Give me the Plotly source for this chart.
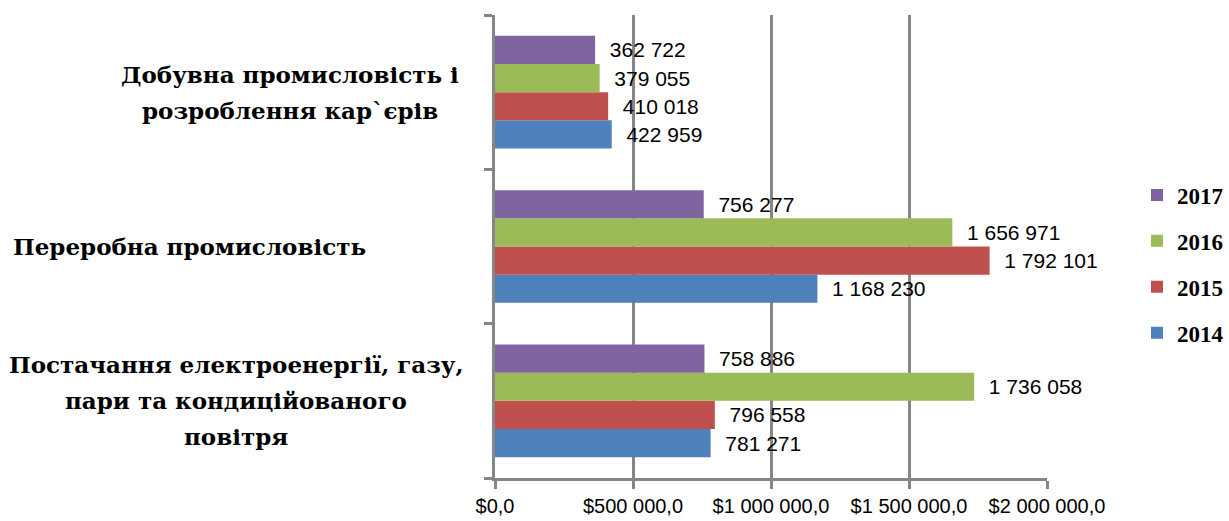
import plotly.graph_objects as go

categories = [
    "Добувна промисловість і<br>розроблення кар`єрів",
    "Переробна промисловість",
    "Постачання електроенергії, газу,<br>пари та кондиційованого<br>повітря",
]
years = ["2014", "2015", "2016", "2017"]
values = {
    "2014": [422959, 1168230, 781271],
    "2015": [410018, 1792101, 796558],
    "2016": [379055, 1656971, 1736058],
    "2017": [362722, 756277, 758886],
}
colors = {"2014": "#4F81BD", "2015": "#C0504D", "2016": "#9BBB59", "2017": "#8064A2"}
legend_rank = {"2017": 1, "2016": 2, "2015": 3, "2014": 4}
x_ticks = [0, 500000, 1000000, 1500000, 2000000]
label_centers_px = [290, 189, 236]  # horizontal centres of category labels
LINE_GAP = 36

L, R, T, B = 495, 182, 15, 43
fig = go.Figure()
for yr in years:
    fig.add_trace(go.Bar(
        y=categories, x=values[yr], name=yr, orientation="h",
        marker=dict(color=colors[yr], line=dict(width=0)),
        texttemplate="\u00a0\u00a0%{x:,}", textposition="outside",
        textfont=dict(family="Liberation Sans", size=21, color="black"),
        cliponaxis=False, constraintext="none", legendgroup=yr,
        legendrank=legend_rank[yr], hoverinfo="skip",
    ))

for cat, px in zip(categories, label_centers_px):
    lines = cat.split("<br>")
    n = len(lines)
    for i, ln in enumerate(lines):
        fig.add_annotation(
            x=0, xref="paper", xanchor="center", xshift=px - L,
            y=cat, yref="y", yanchor="middle",
            yshift=((n - 1) / 2 - i) * LINE_GAP,
            text=ln, showarrow=False, align="center",
            font=dict(family="DejaVu Serif", size=23, color="black", weight="bold"),
        )

fig.update_layout(
    width=1229, height=521,
    margin=dict(l=L, r=R, t=T, b=B, autoexpand=False),
    paper_bgcolor="white", plot_bgcolor="white",
    barmode="group", bargap=0.27, bargroupgap=0,
    separators=", ",
    showlegend=True,
    legend=dict(
        xref="container", yref="container",
        x=1137 / 1229, xanchor="left", y=(521 - 264) / 521, yanchor="middle",
        traceorder="grouped", tracegroupgap=13,
        font=dict(family="Liberation Serif", size=23, color="black", weight="bold"),
        itemwidth=30, bgcolor="rgba(0,0,0,0)", borderwidth=0,
    ),
    xaxis=dict(
        range=[0, 2000000], tickvals=x_ticks, tickformat="$,.1f",
        showgrid=True, gridcolor="#868686", gridwidth=3,
        zeroline=False, showline=True, linecolor="#868686", linewidth=3,
        ticks="outside", ticklen=8, tickwidth=3, tickcolor="#868686",
        tickfont=dict(family="Liberation Sans", size=20, color="black"),
        fixedrange=True, automargin=False,
    ),
    yaxis=dict(
        categoryorder="array", categoryarray=categories[::-1],
        showticklabels=False, showgrid=False, zeroline=False,
        showline=True, linecolor="#868686", linewidth=3,
        ticks="outside", ticklen=8, tickwidth=3, tickcolor="#868686",
        tickson="boundaries", fixedrange=True, automargin=False,
    ),
)
fig.write_html(
    "out.html",
    config={"displayModeBar": False},
    post_script="document.body.style.margin='0';document.body.style.overflow='hidden';",
)
